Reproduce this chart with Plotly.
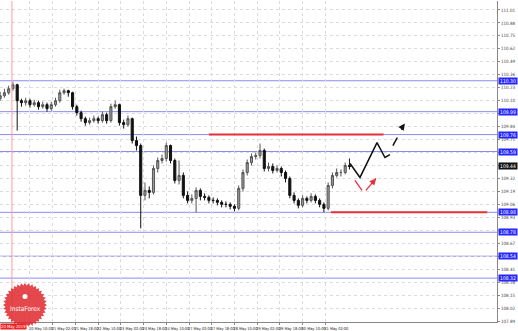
import math
import plotly.graph_objects as go

# ---- data (3-hour candles, x = hourly bar index, 0 = 20 May 10:00) ----
bar_index = [-21 + 3 * k for k in range(83)]
closes = [110.15, 110.18, 110.22, 110.26, 110.10, 110.08, 110.10, 110.06, 110.08, 110.04,
          110.06, 110.02, 110.06, 110.10, 110.18, 110.20, 110.18, 110.04, 109.98, 109.92,
          109.88, 109.90, 109.92, 109.90, 109.96, 109.90, 110.04, 110.06, 109.88, 109.86,
          109.92, 109.70, 109.65, 109.15, 109.20, 109.18, 109.42, 109.50, 109.52, 109.65,
          109.50, 109.30, 109.35, 109.15, 109.10, 109.12, 109.20, 109.14, 109.13, 109.10,
          109.10, 109.08, 109.06, 109.06, 109.04, 109.02, 109.22, 109.38, 109.48, 109.54,
          109.55, 109.60, 109.42, 109.44, 109.40, 109.42, 109.38, 109.32, 109.15, 109.10,
          109.05, 109.12, 109.10, 109.14, 109.10, 109.06, 109.02, 109.25, 109.35, 109.38,
          109.38, 109.45, 109.44]
opens = [110.12] + closes[:-1]
highs = [110.19, 110.22, 110.25, 110.29, 110.27, 110.12, 110.13, 110.12, 110.11, 110.10,
         110.09, 110.08, 110.09, 110.13, 110.21, 110.22, 110.21, 110.19, 110.06, 110.00,
         109.94, 109.93, 109.95, 109.94, 109.99, 109.98, 110.07, 110.10, 110.07, 109.91,
         109.95, 109.93, 109.74, 109.67, 109.28, 109.24, 109.45, 109.53, 109.56, 109.68,
         109.66, 109.52, 109.50, 109.38, 109.19, 109.16, 109.23, 109.22, 109.17, 109.15,
         109.13, 109.12, 109.10, 109.09, 109.08, 109.06, 109.25, 109.41, 109.51, 109.57,
         109.58, 109.67, 109.62, 109.48, 109.47, 109.45, 109.44, 109.40, 109.34, 109.18,
         109.12, 109.15, 109.14, 109.17, 109.16, 109.12, 109.08, 109.28, 109.38, 109.42,
         109.41, 109.48, 109.52]
lows = [110.10, 110.13, 110.16, 110.20, 109.80, 110.04, 110.05, 110.03, 110.04, 110.01,
        110.02, 109.99, 110.00, 110.04, 110.08, 110.16, 110.14, 110.01, 109.95, 109.89,
        109.85, 109.86, 109.88, 109.87, 109.88, 109.87, 109.88, 110.02, 109.85, 109.82,
        109.84, 109.67, 109.60, 108.82, 109.10, 109.12, 109.16, 109.38, 109.47, 109.49,
        109.47, 109.27, 109.26, 109.12, 109.07, 109.07, 108.98, 109.10, 109.10, 109.07,
        109.07, 109.05, 109.03, 109.03, 109.01, 108.99, 109.00, 109.19, 109.35, 109.45,
        109.51, 109.52, 109.39, 109.39, 109.37, 109.38, 109.34, 109.28, 109.12, 109.07,
        109.02, 109.03, 109.07, 109.08, 109.07, 109.03, 108.98, 109.00, 109.22, 109.33,
        109.34, 109.36, 109.41]

level_prices = [110.30, 109.99, 109.76, 109.59, 108.98, 108.78, 108.54, 108.32]
red_levels = [(109.76, 126, 249), (108.98, 212, 322)]
marker_bar = -12.7

x_tick_vals = [0, 16, 32, 48, 64, 80, 96, 112, 128, 144, 160, 176, 192, 208]
x_tick_text = ["20 May 10:00", "21 May 02:00", "21 May 18:00", "22 May 10:00",
               "23 May 02:00", "23 May 18:00", "24 May 10:00", "27 May 02:00",
               "27 May 18:00", "28 May 10:00", "29 May 02:00", "29 May 18:00",
               "30 May 10:00", "31 May 02:00"]
y_tick_text = ["111.01", "110.88", "110.75", "110.62", "110.49", "110.36", "110.23",
               "110.10", "109.97", "109.84", "109.71", "109.58", "109.45", "109.32",
               "109.19", "109.06", "108.93", "108.80", "108.67", "108.54", "108.41",
               "108.28", "108.15", "108.02", "107.89"]
y_tick_vals = [float(t) for t in y_tick_text]

# forecast sketch
fc_black_x = [225.4, 232.4, 244.4, 250.0, 253.5]
fc_black_y = [109.47, 109.33, 109.68, 109.53, 109.56]
fc_dash_x = [255.6, 262.5]
fc_dash_y = [109.65, 109.83]
fc_red1_x = [228.9, 233.8]
fc_red1_y = [109.30, 109.20]
fc_red2_x = [236.6, 243.7]
fc_red2_y = [109.20, 109.32]

FONT = "Liberation Sans Narrow, DejaVu Sans Condensed, Liberation Sans"
BLUE = "#8a8af0"
fig = go.Figure()
fig.add_trace(go.Candlestick(
    x=bar_index, open=opens, high=highs, low=lows, close=closes,
    increasing=dict(line=dict(color="#555555", width=1), fillcolor="#9a9a9a"),
    decreasing=dict(line=dict(color="#111111", width=1), fillcolor="#111111"),
    whiskerwidth=0, showlegend=False))

shapes = []
for p in level_prices:
    shapes.append(dict(type="line", xref="paper", x0=0, x1=1, yref="y", y0=p, y1=p,
                       line=dict(color=BLUE, width=1), layer="below"))
for p, a, b in red_levels:
    shapes.append(dict(type="line", xref="x", x0=a, x1=b, yref="y", y0=p, y1=p,
                       line=dict(color="#e8303a", width=2)))
shapes.append(dict(type="line", xref="x", x0=marker_bar, x1=marker_bar, yref="paper",
                   y0=0, y1=1, line=dict(color="#ff9c9c", width=1)))

# InstaForex badge (sawtooth circle)
pts = []
teeth = 36
for j in range(teeth * 2):
    r = 22 if j % 2 == 0 else 19.5
    a = math.pi * j / teeth
    pts.append((r * math.cos(a), r * math.sin(a)))
path = "M " + " L ".join(f"{x:.2f},{y:.2f}" for x, y in pts) + " Z"
cx, cy = 25 / 497, (322 - 305) / 321
shapes.append(dict(type="path", xref="paper", yref="paper", xsizemode="pixel",
                   ysizemode="pixel", xanchor=cx, yanchor=cy,
                   path=path, fillcolor="rgba(225,40,45,0.85)", line=dict(width=0)))
shapes.append(dict(type="circle", xref="paper", yref="paper", xsizemode="pixel",
                   ysizemode="pixel", xanchor=cx, yanchor=cy, x0=-2.5, x1=2.5, y0=6, y1=11,
                   fillcolor="white", line=dict(width=0)))

fig.add_trace(go.Scatter(x=fc_black_x, y=fc_black_y, mode="lines",
                         line=dict(color="#111111", width=1.5), showlegend=False))
fig.add_trace(go.Scatter(x=fc_dash_x, y=fc_dash_y, mode="lines",
                         line=dict(color="#111111", width=1.5, dash="dash"), showlegend=False))
fig.add_trace(go.Scatter(x=fc_red1_x, y=fc_red1_y, mode="lines",
                         line=dict(color="#e8303a", width=1.3), showlegend=False))
fig.add_trace(go.Scatter(x=fc_red2_x, y=fc_red2_y, mode="lines",
                         line=dict(color="#e8303a", width=1.3), showlegend=False))

ann = []
ann.append(dict(x=fc_dash_x[1] + 1.5, y=fc_dash_y[1] + 0.04, ax=fc_dash_x[1] - 1, ay=fc_dash_y[1] - 0.01,
                xref="x", yref="y", axref="x", ayref="y", showarrow=True, arrowhead=2,
                arrowsize=1, arrowwidth=1.3, arrowcolor="#111111", text=""))
ann.append(dict(x=fc_red2_x[1], y=fc_red2_y[1], ax=fc_red2_x[0] + 3, ay=fc_red2_y[0] + 0.05,
                xref="x", yref="y", axref="x", ayref="y", showarrow=True, arrowhead=2,
                arrowsize=1, arrowwidth=1.3, arrowcolor="#e8303a", text=""))
for p in level_prices:
    ann.append(dict(x=1, xref="paper", xanchor="left", xshift=1, y=p, yref="y", showarrow=False,
                    text=f"{p:.2f}", font=dict(size=5, color="white", family=FONT),
                    bgcolor="#2626ff", borderpad=0, width=18))
ann.append(dict(x=1, xref="paper", xanchor="left", xshift=1, y=closes[-1], yref="y", showarrow=False,
                text=f"{closes[-1]:.2f}", font=dict(size=5, color="white", family=FONT),
                bgcolor="#111111", borderpad=0, width=18))
ann.append(dict(x=0, xref="paper", xanchor="left", y=0, yref="paper", yanchor="top",
                yshift=-1, showarrow=False, text="20 May 2019",
                font=dict(size=4.2, color="white", family=FONT),
                bgcolor="#ee2222", borderpad=0))
ann.append(dict(x=cx, xref="paper", xanchor="center", y=(322 - 309) / 321, yref="paper",
                yanchor="middle", showarrow=False,
                text="InstaForex", font=dict(size=6.5, color="white", family=FONT)))

fig.update_layout(
    width=518, height=331, margin=dict(l=0, r=21, t=1, b=9, autoexpand=False),
    paper_bgcolor="white", plot_bgcolor="white", shapes=shapes, annotations=ann,
    showlegend=False,
    xaxis=dict(range=[-21.1, 328.9], rangeslider=dict(visible=False), tickvals=x_tick_vals,
               ticktext=x_tick_text, tickangle=0, automargin=False,
               tickfont=dict(size=3.9, color="#222", family=FONT),
               ticks="outside", ticklen=2, tickcolor="#888", showline=True, linecolor="#888",
               showgrid=True, gridcolor="#dcdcdc", griddash="dot", zeroline=False,
               ticklabelshift=11, ticklabelstandoff=0),
    yaxis=dict(range=[107.88, 111.10], side="right", tickvals=y_tick_vals, ticktext=y_tick_text,
               automargin=False,
               tickfont=dict(size=4.5, color="#444", family=FONT), ticks="outside",
               ticklen=2, tickcolor="#888", showline=True, linecolor="#888", showgrid=True,
               gridcolor="#dcdcdc", griddash="dot", zeroline=False),
)
fig.write_html("out.html")
